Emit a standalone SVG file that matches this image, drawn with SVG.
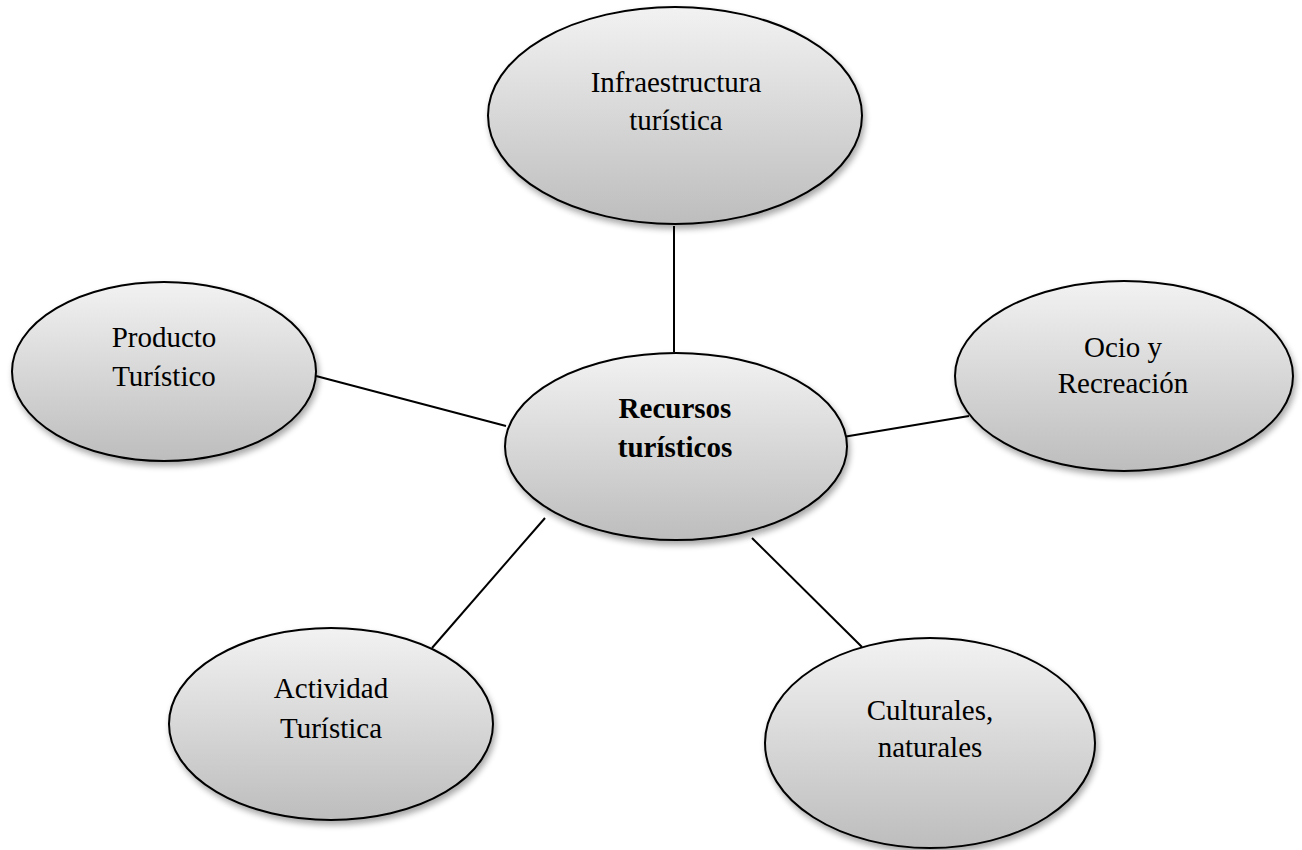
<svg xmlns="http://www.w3.org/2000/svg" width="1302" height="850" viewBox="0 0 1302 850">
  <defs>
    <linearGradient id="nodeFill" x1="0" y1="0" x2="0" y2="1">
      <stop offset="0" stop-color="#f2f2f2"/>
      <stop offset="1" stop-color="#bdbdbd"/>
    </linearGradient>
    <filter id="softShadow" x="-10%" y="-10%" width="125%" height="130%">
      <feGaussianBlur in="SourceAlpha" stdDeviation="3"/>
      <feOffset dx="2" dy="4" result="blur"/>
      <feComponentTransfer><feFuncA type="linear" slope="0.35"/></feComponentTransfer>
      <feMerge><feMergeNode/><feMergeNode in="SourceGraphic"/></feMerge>
    </filter>
  </defs>
  <style>
    .node ellipse { fill: url(#nodeFill); stroke: #000; stroke-width: 2; filter: url(#softShadow); }
    .node text { font-family: "Liberation Serif", "Times New Roman", serif; font-size: 29px; fill: #000; text-anchor: middle; }
    .node text.bold { font-weight: bold; }
    .links line { stroke: #000; stroke-width: 2; }
  </style>
  <rect width="1302" height="850" fill="#fff"/>

  <g class="links">
    <line x1="674" y1="226" x2="674" y2="352"/>
    <line x1="316" y1="376" x2="506" y2="426"/>
    <line x1="843" y1="437" x2="969" y2="416"/>
    <line x1="545" y1="518" x2="432" y2="648"/>
    <line x1="752" y1="538" x2="862" y2="647"/>
  </g>

  <g id="infraestructura" class="node">
    <ellipse cx="675" cy="115.5" rx="187" ry="108.5"/>
    <text x="676" y="92">Infraestructura</text>
    <text x="676" y="130">turística</text>
  </g>

  <g id="producto" class="node">
    <ellipse cx="164" cy="371.5" rx="152" ry="89.5"/>
    <text x="164" y="347">Producto</text>
    <text x="164" y="386">Turístico</text>
  </g>

  <g id="ocio" class="node">
    <ellipse cx="1124" cy="376" rx="169" ry="95"/>
    <text x="1123" y="357">Ocio y</text>
    <text x="1123" y="393">Recreación</text>
  </g>

  <g id="recursos" class="node">
    <ellipse cx="676" cy="446.5" rx="171" ry="93.5"/>
    <text class="bold" x="675" y="418">Recursos</text>
    <text class="bold" x="675" y="457">turísticos</text>
  </g>

  <g id="actividad" class="node">
    <ellipse cx="331" cy="724" rx="162" ry="96"/>
    <text x="331" y="698">Actividad</text>
    <text x="331" y="738">Turística</text>
  </g>

  <g id="culturales" class="node">
    <ellipse cx="930" cy="743" rx="165" ry="105"/>
    <text x="930" y="720">Culturales,</text>
    <text x="930" y="757">naturales</text>
  </g>
</svg>
